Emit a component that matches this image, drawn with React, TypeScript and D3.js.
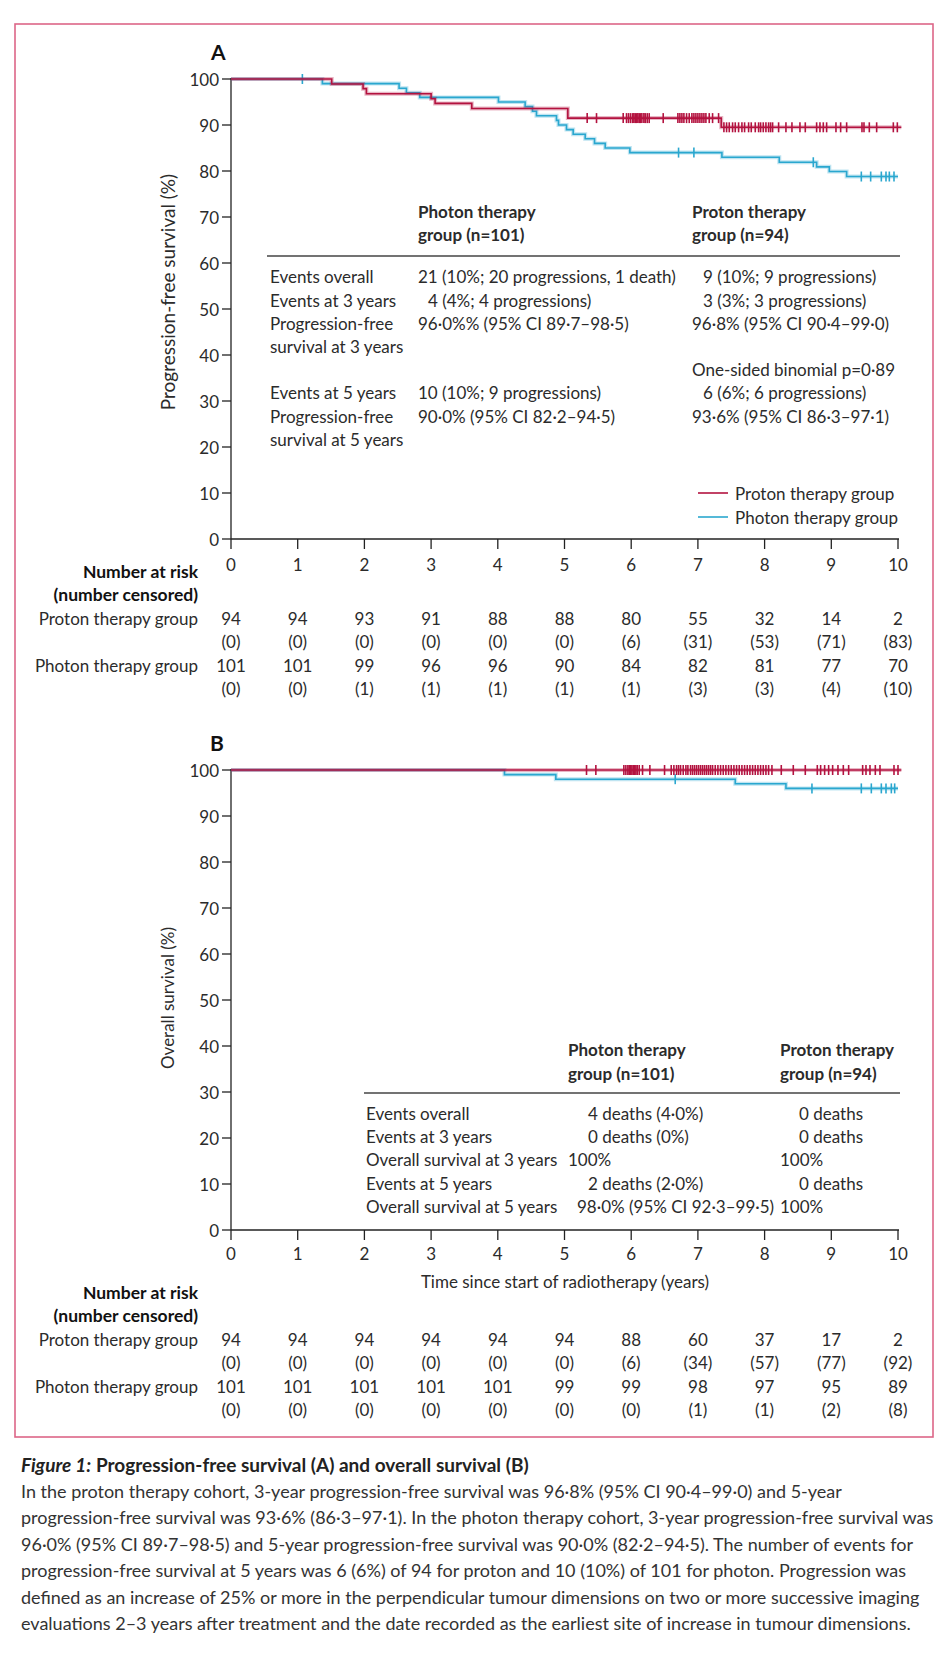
import React from "react";
import * as d3 from "d3";

// ---------- DATA ----------
const yearTicks = [0, 1, 2, 3, 4, 5, 6, 7, 8, 9, 10];
const yTicks = [0, 10, 20, 30, 40, 50, 60, 70, 80, 90, 100];

// Panel A – progression-free survival (time in years, survival %)
const pfsProtonSteps: [number, number][] = [
  [0, 100], [1.51, 98.9], [1.98, 97.9], [2.03, 96.8], [3.0, 95.7], [3.06, 94.7],
  [3.61, 93.6], [5.05, 91.5], [7.35, 89.5],
];
const pfsProtonEnd = 10.05;
const pfsPhotonSteps: [number, number][] = [
  [0, 100], [1.37, 99], [2.52, 98], [2.63, 97], [2.83, 96], [4.01, 95], [4.41, 94],
  [4.52, 93], [4.58, 92], [4.88, 91], [4.91, 90], [5.03, 89], [5.13, 88], [5.31, 87],
  [5.45, 86], [5.61, 85], [5.98, 84], [7.36, 83.0], [8.22, 81.9], [8.78, 80.9],
  [8.97, 79.9], [9.23, 78.8],
];
const pfsPhotonEnd = 10.0;
const pfsProtonCensor = [
  5.34, 5.48, 5.88, 5.93, 5.96, 5.99, 6.02, 6.04, 6.06, 6.08, 6.1, 6.12, 6.14, 6.16, 6.19,
  6.21, 6.24, 6.27, 6.48, 6.7, 6.73, 6.76, 6.79, 6.83, 6.87, 6.91, 6.94, 6.97, 7.0, 7.03,
  7.06, 7.09, 7.12, 7.17, 7.22, 7.31, 7.39, 7.43, 7.47, 7.52, 7.56, 7.61, 7.66, 7.7, 7.76,
  7.8, 7.86, 7.91, 7.94, 7.98, 8.02, 8.06, 8.09, 8.12, 8.21, 8.32, 8.41, 8.53, 8.61, 8.78,
  8.83, 8.88, 8.93, 9.07, 9.14, 9.23, 9.46, 9.49, 9.57, 9.68, 9.93, 9.99,
];
const pfsPhotonCensor = [1.07, 6.71, 6.94, 8.73, 9.45, 9.59, 9.75, 9.82, 9.87, 9.94];

// Panel B – overall survival
const osProtonSteps: [number, number][] = [[0, 100]];
const osProtonEnd = 10.05;
const osPhotonSteps: [number, number][] = [
  [0, 100], [4.1, 99.0], [4.87, 98.0], [7.56, 97.0], [8.32, 96.0],
];
const osPhotonEnd = 10.0;
const osProtonCensor = [
  5.33, 5.47, 5.89, 5.92, 5.95, 5.97, 5.99, 6.01, 6.03, 6.05, 6.07, 6.09, 6.12, 6.17, 6.28,
  6.5, 6.6, 6.64, 6.68, 6.71, 6.74, 6.78, 6.82, 6.85, 6.89, 6.92, 6.95, 6.98, 7.01, 7.04,
  7.07, 7.1, 7.13, 7.16, 7.19, 7.22, 7.26, 7.3, 7.34, 7.38, 7.42, 7.46, 7.5, 7.54, 7.58,
  7.62, 7.66, 7.7, 7.74, 7.78, 7.82, 7.86, 7.9, 7.94, 7.98, 8.02, 8.06, 8.11, 8.25, 8.43,
  8.61, 8.79, 8.84, 8.9, 8.96, 9.02, 9.1, 9.18, 9.26, 9.47, 9.52, 9.58, 9.66, 9.73, 9.94, 10.0,
];
const osPhotonCensor = [6.66, 8.71, 9.45, 9.6, 9.75, 9.82, 9.9, 9.95];

// Numbers at risk
const pfsRiskProton = ["94", "94", "93", "91", "88", "88", "80", "55", "32", "14", "2"];
const pfsCensProton = ["(0)", "(0)", "(0)", "(0)", "(0)", "(0)", "(6)", "(31)", "(53)", "(71)", "(83)"];
const pfsRiskPhoton = ["101", "101", "99", "96", "96", "90", "84", "82", "81", "77", "70"];
const pfsCensPhoton = ["(0)", "(0)", "(1)", "(1)", "(1)", "(1)", "(1)", "(3)", "(3)", "(4)", "(10)"];
const osRiskProton = ["94", "94", "94", "94", "94", "94", "88", "60", "37", "17", "2"];
const osCensProton = ["(0)", "(0)", "(0)", "(0)", "(0)", "(0)", "(6)", "(34)", "(57)", "(77)", "(92)"];
const osRiskPhoton = ["101", "101", "101", "101", "101", "99", "99", "98", "97", "95", "89"];
const osCensPhoton = ["(0)", "(0)", "(0)", "(0)", "(0)", "(0)", "(0)", "(1)", "(1)", "(2)", "(8)"];

const captionLines = [
  "In the proton therapy cohort, 3-year progression-free survival was 96·8% (95% CI 90·4–99·0) and 5-year",
  "progression-free survival was 93·6% (86·3–97·1). In the photon therapy cohort, 3-year progression-free survival was",
  "96·0% (95% CI 89·7–98·5) and 5-year progression-free survival was 90·0% (82·2–94·5). The number of events for",
  "progression-free survival at 5 years was 6 (6%) of 94 for proton and 10 (10%) of 101 for photon. Progression was",
  "defined as an increase of 25% or more in the perpendicular tumour dimensions on two or more successive imaging",
  "evaluations 2–3 years after treatment and the date recorded as the earliest site of increase in tumour dimensions.",
];

// ---------- STYLE ----------
const RED = "#b3123f";
const BLUE = "#2aa7cf";
const FRAME = "#dc6688";
const TXT = "#2b2b2b";
const FONT = "Lato, 'Open Sans', sans-serif";
const FS = 17;

const x = d3.scaleLinear().domain([0, 10]).range([231, 898]);

function KM({ steps, end, censor, y, color }: any) {
  const pts: [number, number][] = [...steps, [end, steps[steps.length - 1][1]]];
  const line = d3
    .line<[number, number]>()
    .x((d) => x(d[0]))
    .y((d) => y(d[1]))
    .curve(d3.curveStepAfter);
  const levelAt = (t: number) => {
    let s = steps[0][1];
    for (const st of steps) if (st[0] <= t) s = st[1];
    return s;
  };
  const p = line(pts) || "";
  return (
    <g>
      <path d={p} fill="none" stroke={color} strokeOpacity={0.3} strokeWidth={4} />
      <path d={p} fill="none" stroke={color} strokeWidth={1.6} />
      {censor.map((t: number, i: number) => (
        <line key={i} x1={x(t)} x2={x(t)} y1={y(levelAt(t)) - 5} y2={y(levelAt(t)) + 5}
          stroke={color} strokeWidth={1.6} />
      ))}
    </g>
  );
}

function Axes({ y, labelY }: any) {
  const y0 = y(0);
  return (
    <g fontFamily={FONT} fontSize={FS} fill={TXT}>
      <line x1={x(0)} x2={x(0)} y1={y(100) - 1} y2={y0} stroke="#222" strokeWidth={1.3} />
      <line x1={x(0)} x2={x(10) + 1} y1={y0} y2={y0} stroke="#222" strokeWidth={1.3} />
      {yTicks.map((t) => (
        <g key={t}>
          <line x1={x(0) - 9} x2={x(0)} y1={y(t)} y2={y(t)} stroke="#222" strokeWidth={1.3} />
          <text x={x(0) - 12} y={y(t)} textAnchor="end" dominantBaseline="central">{t}</text>
        </g>
      ))}
      {yearTicks.map((t) => (
        <g key={t}>
          <line x1={x(t)} x2={x(t)} y1={y0} y2={y0 + 10} stroke="#222" strokeWidth={1.3} />
          <text x={x(t)} y={labelY} textAnchor="middle" dominantBaseline="central">{t}</text>
        </g>
      ))}
    </g>
  );
}

function RiskTable({ top, rows }: any) {
  const dy = 23.5;
  const labels = ["Proton therapy group", "", "Photon therapy group", ""];
  return (
    <g fontFamily={FONT} fontSize={FS} fill={TXT}>
      <text x={198} y={top} textAnchor="end" dominantBaseline="central" fontWeight={700} fill="#111" fontSize={17.5}>Number at risk</text>
      <text x={198} y={top + dy} textAnchor="end" dominantBaseline="central" fontWeight={700} fill="#111" fontSize={17.5}>(number censored)</text>
      {rows.map((r: string[], ri: number) => (
        <g key={ri}>
          {labels[ri] && (
            <text x={198} y={top + dy * (ri + 2)} textAnchor="end" dominantBaseline="central">{labels[ri]}</text>
          )}
          {r.map((v, i) => (
            <text key={i} x={x(yearTicks[i])} y={top + dy * (ri + 2)} textAnchor="middle" dominantBaseline="central">{v}</text>
          ))}
        </g>
      ))}
    </g>
  );
}

function T({ x: tx, y: ty, children, bold }: any) {
  return (
    <text x={tx} y={ty} dominantBaseline="central" fontWeight={bold ? 700 : 400}>{children}</text>
  );
}

export default function App() {
  const yA = d3.scaleLinear().domain([0, 100]).range([539, 79]);
  const yB = d3.scaleLinear().domain([0, 100]).range([1230, 770]);
  return (
    <svg width={949} height={1656} style={{ position: "absolute", left: 0, top: 0, background: "#fff" }}>
      <rect x={0} y={0} width={949} height={1656} fill="#fff" />
      <rect x={15} y={24} width={918} height={1413} fill="none" stroke={FRAME} strokeWidth={1.6} />

      {/* ---------- Panel A ---------- */}
      <text x={211} y={51} fontFamily={FONT} fontSize={21} fontWeight={700} fill="#111" dominantBaseline="central">A</text>
      <Axes y={yA} labelY={564} />
      <text transform="translate(167,292) rotate(-90)" textAnchor="middle" dominantBaseline="central"
        fontFamily={FONT} fontSize={19} fill={TXT}>Progression-free survival (%)</text>
      <g fontFamily={FONT} fontSize={FS} fill={TXT}>
        <T x={418} y={211} bold>Photon therapy</T>
        <T x={418} y={234} bold>group (n=101)</T>
        <T x={692} y={211} bold>Proton therapy</T>
        <T x={692} y={234} bold>group (n=94)</T>
        <line x1={267} x2={900} y1={256} y2={256} stroke="#444" strokeWidth={1.6} />
        <T x={270} y={276}>Events overall</T>
        <T x={270} y={300}>Events at 3 years</T>
        <T x={270} y={323}>Progression-free</T>
        <T x={270} y={346}>survival at 3 years</T>
        <T x={270} y={392}>Events at 5 years</T>
        <T x={270} y={416}>Progression-free</T>
        <T x={270} y={439}>survival at 5 years</T>
        <T x={418} y={276}>21 (10%; 20 progressions, 1 death)</T>
        <T x={428} y={300}>4 (4%; 4 progressions)</T>
        <T x={418} y={323}>96·0%% (95% CI 89·7–98·5)</T>
        <T x={418} y={392}>10 (10%; 9 progressions)</T>
        <T x={418} y={416}>90·0% (95% CI 82·2–94·5)</T>
        <T x={703} y={276}>9 (10%; 9 progressions)</T>
        <T x={703} y={300}>3 (3%; 3 progressions)</T>
        <T x={692} y={323}>96·8% (95% CI 90·4–99·0)</T>
        <T x={692} y={369}>One-sided binomial p=0·89</T>
        <T x={703} y={392}>6 (6%; 6 progressions)</T>
        <T x={692} y={416}>93·6% (95% CI 86·3–97·1)</T>
      </g>
      <g fontFamily={FONT} fontSize={FS} fill={TXT}>
        <line x1={698} x2={728} y1={493} y2={493} stroke={RED} strokeWidth={1.6} />
        <line x1={698} x2={728} y1={517} y2={517} stroke={BLUE} strokeWidth={1.6} />
        <T x={735} y={493}>Proton therapy group</T>
        <T x={735} y={517}>Photon therapy group</T>
      </g>
      <KM steps={pfsPhotonSteps} end={pfsPhotonEnd} censor={pfsPhotonCensor} y={yA} color={BLUE} />
      <KM steps={pfsProtonSteps} end={pfsProtonEnd} censor={pfsProtonCensor} y={yA} color={RED} />
      <RiskTable top={571} rows={[pfsRiskProton, pfsCensProton, pfsRiskPhoton, pfsCensPhoton]} />

      {/* ---------- Panel B ---------- */}
      <text x={210} y={742} fontFamily={FONT} fontSize={21} fontWeight={700} fill="#111" dominantBaseline="central">B</text>
      <Axes y={yB} labelY={1253} />
      <text transform="translate(167,998) rotate(-90)" textAnchor="middle" dominantBaseline="central"
        fontFamily={FONT} fontSize={17} fill={TXT}>Overall survival (%)</text>
      <text x={565} y={1281} textAnchor="middle" dominantBaseline="central" fontFamily={FONT} fontSize={FS} fill={TXT}>
        Time since start of radiotherapy (years)
      </text>
      <g fontFamily={FONT} fontSize={FS} fill={TXT}>
        <T x={568} y={1049} bold>Photon therapy</T>
        <T x={568} y={1073} bold>group (n=101)</T>
        <T x={780} y={1049} bold>Proton therapy</T>
        <T x={780} y={1073} bold>group (n=94)</T>
        <line x1={364} x2={900} y1={1093} y2={1093} stroke="#444" strokeWidth={1.6} />
        <T x={366} y={1113}>Events overall</T>
        <T x={366} y={1136}>Events at 3 years</T>
        <T x={366} y={1159}>Overall survival at 3 years</T>
        <T x={366} y={1183}>Events at 5 years</T>
        <T x={366} y={1206}>Overall survival at 5 years</T>
        <T x={588} y={1113}>4 deaths (4·0%)</T>
        <T x={588} y={1136}>0 deaths (0%)</T>
        <T x={568} y={1159}>100%</T>
        <T x={588} y={1183}>2 deaths (2·0%)</T>
        <T x={577} y={1206}>98·0% (95% CI 92·3–99·5)</T>
        <T x={799} y={1113}>0 deaths</T>
        <T x={799} y={1136}>0 deaths</T>
        <T x={780} y={1159}>100%</T>
        <T x={799} y={1183}>0 deaths</T>
        <T x={780} y={1206}>100%</T>
      </g>
      <KM steps={osPhotonSteps} end={osPhotonEnd} censor={osPhotonCensor} y={yB} color={BLUE} />
      <KM steps={osProtonSteps} end={osProtonEnd} censor={osProtonCensor} y={yB} color={RED} />
      <RiskTable top={1292} rows={[osRiskProton, osCensProton, osRiskPhoton, osCensPhoton]} />

      {/* ---------- Caption ---------- */}
      <text x={21} y={1464} dominantBaseline="central" fontFamily={FONT} fontSize={19} fontWeight={700} fill="#222">
        <tspan fontStyle="italic">Figure 1:</tspan> Progression-free survival (A) and overall survival (B)
      </text>
      <g fontFamily={FONT} fontSize={18} fill="#333">
        {captionLines.map((l, i) => (
          <text key={i} x={21} y={1491 + i * 26.4} dominantBaseline="central">{l}</text>
        ))}
      </g>
    </svg>
  );
}
